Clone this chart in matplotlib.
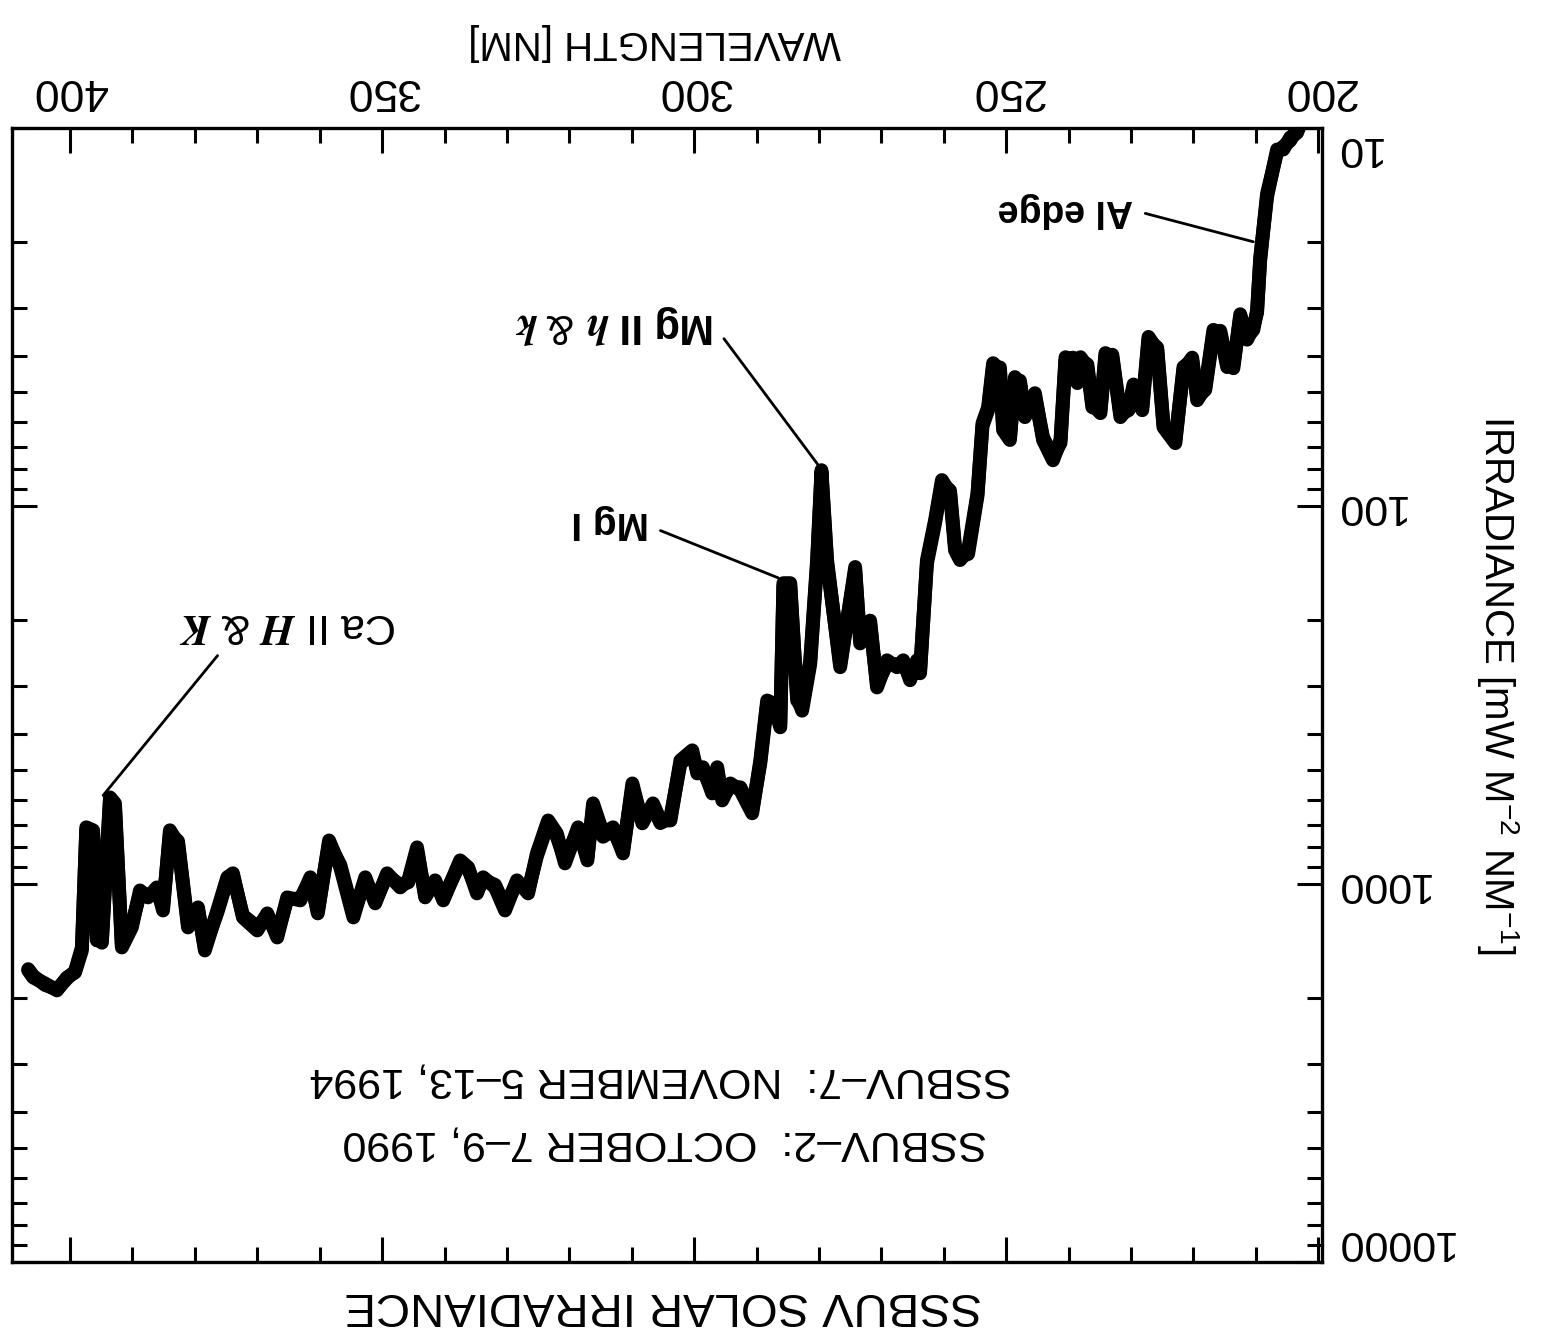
import matplotlib
matplotlib.use('Agg')
import matplotlib.pyplot as plt
from matplotlib.ticker import FixedLocator, FixedFormatter, NullFormatter, MultipleLocator, LogLocator

plt.rcParams['font.family'] = ['Liberation Sans', 'DejaVu Sans']
plt.rcParams['mathtext.fontset'] = 'custom'
plt.rcParams['mathtext.rm'] = 'Liberation Sans'
plt.rcParams['mathtext.it'] = 'STIXGeneral:italic:bold'
plt.rcParams['mathtext.bf'] = 'Liberation Sans:bold'

# ---------------- data ----------------
wavelength = [406.7, 405.9, 404.0, 402.1, 400.5, 399.2, 398.1, 397.4, 396.3, 395.7,
              394.9, 393.6, 392.8, 391.7, 390.1, 388.8, 387.5, 386.1, 385.1, 384.0,
              382.7, 381.1, 379.5, 378.4, 376.4, 374.8, 373.9, 372.3, 370.0, 368.4,
              366.8, 365.2, 363.1, 361.5, 360.3, 358.5, 356.7, 354.6, 352.7, 351.1,
              349.2, 347.1, 345.8, 344.4, 343.1, 341.5, 340.2, 337.5, 336.2, 334.8,
              333.8, 331.9, 330.3, 328.4, 326.6, 325.2, 323.4, 322.0, 320.7, 318.6,
              317.1, 316.2, 314.6, 313.0, 311.4, 309.9, 308.3, 306.6, 305.4, 303.8,
              302.2, 300.3, 299.5, 298.6, 297.1, 296.3, 295.5, 294.2, 292.6, 290.7,
              289.4, 288.3, 287.3, 286.2, 285.7, 284.6, 283.5, 282.7, 281.4, 280.3,
              279.6, 278.7, 276.6, 274.2, 273.4, 271.8, 270.7, 269.1, 267.5, 266.5,
              265.4, 264.3, 263.8, 262.7, 261.4, 260.3, 259.0, 258.2, 257.4, 256.1,
              254.6, 253.8, 252.9, 252.1, 251.0, 250.5, 249.4, 248.6, 247.8, 247.0,
              245.4, 244.1, 242.5, 241.3, 240.5, 239.3, 238.6, 238.1, 237.0, 236.2,
              234.9, 234.1, 233.0, 231.7, 230.4, 229.6, 228.2, 227.2, 225.8, 224.8,
              222.9, 221.6, 220.2, 219.4, 218.1, 216.8, 215.7, 214.6, 213.6, 212.5,
              211.4, 210.4, 209.8, 209.3, 208.2, 206.6, 205.6, 204.5, 203.4, 202.6]

ssbuv2 = [1693, 1767, 1833, 1912, 1767, 1714, 1499, 708, 721, 1410,
          1410, 590, 612, 1472, 1303, 1040, 1085, 1021, 1175, 721,
          781, 1303, 1153, 1499, 1175, 960, 937, 1226, 1327, 1196,
          1385, 1085, 1105, 960, 1196, 767, 904, 1226, 960, 1125,
          937, 1021, 978, 800, 1085, 978, 1105, 866, 904, 1059,
          960, 1021, 1175, 978, 1059, 830, 679, 735, 882, 708,
          866, 612, 735, 708, 830, 542, 691, 612, 679, 679,
          471, 443, 510, 491, 576, 491, 601, 542, 565, 650,
          471, 327, 333, 385, 160, 160, 327, 341, 256, 139,
          80.4, 139, 267, 145, 231, 201, 302, 256, 267, 256,
          289, 256, 277, 139, 109, 85.4, 92.5, 131, 139, 131,
          92.5, 60.4, 54.8, 41.9, 43.7, 63.0, 66.9, 45.6, 47.3, 58.2,
          50.3, 66.9, 75.7, 66.9, 40.4, 41.1, 47.3, 40.4, 42.9, 54.8,
          55.8, 39.4, 40.4, 58.2, 54.8, 48.5, 54.8, 35.7, 38.7, 61.9,
          68.2, 42.9, 41.1, 52.5, 48.5, 34.2, 34.9, 42.9, 42.5, 31.6,
          35.7, 34.2, 30.3, 22.4, 14.9, 11.6, 11.2, 10.8, 10.1, 9.6]

ssbuv7 = [1680, 1750, 1850, 1900, 1780, 1700, 1470, 720, 735, 1390,
          1430, 600, 625, 1450, 1280, 1060, 1070, 1040, 1150, 735,
          770, 1280, 1170, 1470, 1190, 975, 950, 1210, 1300, 1210,
          1360, 1100, 1090, 975, 1180, 780, 890, 1200, 975, 1110,
          950, 1005, 990, 815, 1070, 990, 1090, 880, 915, 1040,
          975, 1005, 1150, 990, 1040, 845, 690, 750, 865, 720,
          850, 625, 750, 720, 815, 555, 680, 625, 690, 665,
          480, 452, 500, 500, 565, 500, 590, 552, 555, 640,
          480, 333, 340, 378, 163, 163, 320, 348, 262, 142,
          82, 142, 262, 148, 226, 205, 296, 262, 262, 261,
          284, 261, 272, 142, 111, 87, 91, 128, 136, 134,
          94, 61.5, 55.8, 42.7, 43, 62, 65.8, 46.4, 46.6, 57.2,
          51.2, 65.8, 74.3, 68.1, 41.1, 40.5, 46.5, 41.1, 42.2, 53.8,
          56.8, 40.1, 39.8, 57.2, 55.8, 47.7, 55.8, 36.3, 38.1, 60.9,
          67, 43.7, 40.5, 51.6, 49.3, 34.8, 34.4, 42.2, 43.2, 31.1,
          36.3, 33.6, 30.8, 22, 15.2, 11.4, 11.4, 10.6, 10.3, 9.5]

x_ticks = [200, 250, 300, 350, 400]
x_tick_labels = ['200', '250', '300', '350', '400']
y_ticks = [10, 100, 1000, 10000]
y_tick_labels = ['10', '100', '1000', '10000']

legend_lines = ['SSBUV\u20132:  OCTOBER 7\u20139, 1990', 'SSBUV\u20137:  NOVEMBER 5\u201313, 1994']

# annotations: (label, point on curve, text position, line start on text box, size, weight)
annotations = [
    ('Al edge', (210.4, 20.0), (240.5, 16.5), (1.0, 0.5), 27, 'bold'),
    (r'Mg II $h\ &\ k$', (280.1, 78.0), (312.7, 33.2), (1.0, 0.45), 30, 'bold'),
    ('Mg I', (286.5, 155.0), (313.5, 110.4), (1.0, 0.4), 28, 'bold'),
    (r'Ca II $H\ &\ K$', (394.7, 583.0), (365.2, 206.8), (0.22, 0.0), 31, 'normal'),
]

# ---------------- figure ----------------
W, H = 1542, 1335
fig = plt.figure(figsize=(W / 100, H / 100), dpi=100)
fig.patch.set_facecolor('white')
ax = fig.add_axes([12 / W, 1 - 1262 / H, 1310 / W, 1134 / H])

ax.plot(wavelength, ssbuv2, color='black', lw=10, solid_joinstyle='round', solid_capstyle='round')
ax.plot(wavelength, ssbuv7, color='black', lw=10, solid_joinstyle='round', solid_capstyle='round')

ax.set_yscale('log')
ax.set_xlim(409.3, 199.4)
ax.set_ylim(10000, 10)

ax.xaxis.set_major_locator(FixedLocator(x_ticks))
ax.xaxis.set_major_formatter(FixedFormatter(x_tick_labels))
ax.xaxis.set_minor_locator(MultipleLocator(10))
ax.yaxis.set_major_locator(FixedLocator(y_ticks))
ax.yaxis.set_major_formatter(FixedFormatter(y_tick_labels))
ax.yaxis.set_minor_locator(LogLocator(base=10, subs=range(2, 10)))
ax.yaxis.set_minor_formatter(NullFormatter())

ax.tick_params(axis='x', which='both', top=True, bottom=True, labeltop=True, labelbottom=False,
               direction='in', labelrotation=180, labelsize=32, pad=12, width=2.2)
ax.tick_params(axis='y', which='both', left=True, right=True, labelleft=False, labelright=True,
               direction='in', labelrotation=180, labelsize=31, pad=8, width=2.2)
ax.tick_params(which='major', length=18)
ax.tick_params(which='minor', length=11)
for s in ax.spines.values():
    s.set_linewidth(2.4)

yt = ax.yaxis.get_major_ticks()
for i, t in enumerate(yt):
    t.label2.set_va('top' if i == 0 else ('bottom' if i == len(yt) - 1 else 'center'))

for label, xy, xyt, rp, fs, fw in annotations:
    ax.annotate(label, xy=xy, xytext=xyt, rotation=180, ha='center', va='center', fontsize=fs,
                fontweight=fw,
                arrowprops=dict(arrowstyle='-', color='black', lw=2, relpos=rp, shrinkA=7, shrinkB=0))

ax.text(0.4954, 0.1605, legend_lines[1], transform=ax.transAxes, rotation=180,
        ha='center', va='center', fontsize=31)
ax.text(0.4985, 0.105, legend_lines[0], transform=ax.transAxes, rotation=180,
        ha='center', va='center', fontsize=31)

fig.text(663 / W, 1 - 1305 / H, 'SSBUV SOLAR IRRADIANCE', rotation=180, ha='center', va='center', fontsize=34)
fig.text(655 / W, 1 - 42 / H, 'WAVELENGTH [NM]', rotation=180, ha='center', va='center', fontsize=29)
fig.text(1497 / W, 1 - 685 / H, r'IRRADIANCE [mW M$^{\mathregular{-2}}$ NM$^{\mathregular{-1}}$]',
         rotation=270, ha='center', va='center', fontsize=29)

fig.savefig('out.png', dpi=100)
